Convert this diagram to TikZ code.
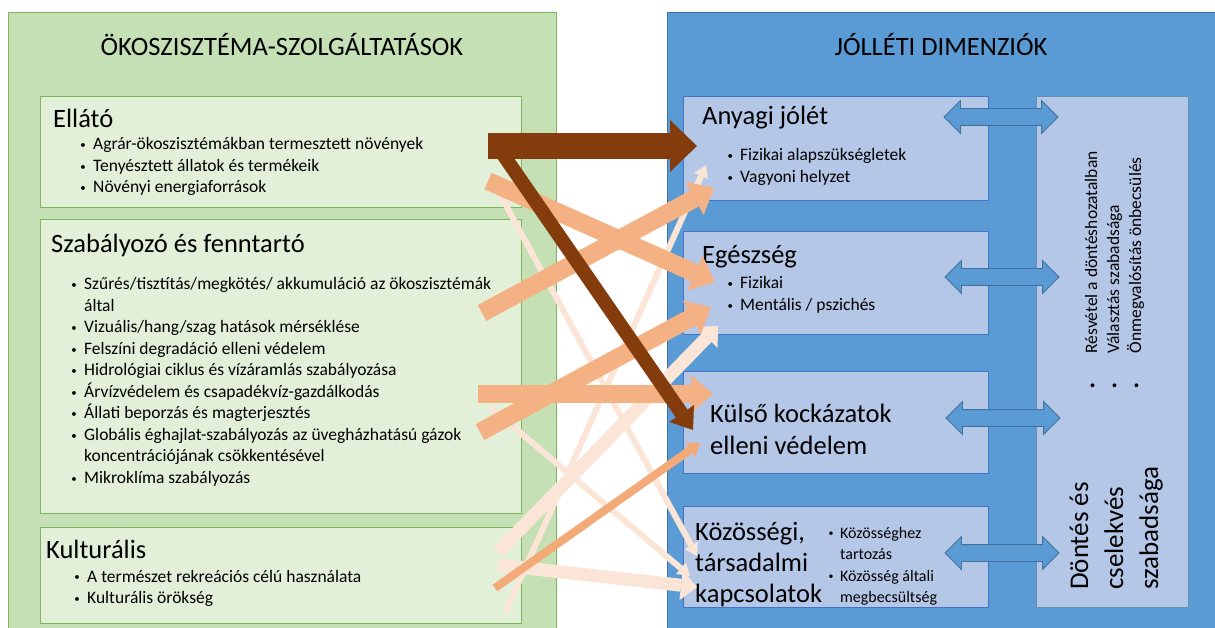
\documentclass[tikz,border=0pt]{standalone}
\usepackage{fontspec}
\setmainfont{Carlito}
\usetikzlibrary{arrows.meta, shapes.arrows}

\definecolor{greenpanel}{HTML}{C5E0B4}
\definecolor{greenbox}{HTML}{E2F0D9}
\definecolor{greenedge}{HTML}{7DB65A}
\definecolor{bluepanel}{HTML}{5B9BD5}
\definecolor{blueedge}{HTML}{41719C}
\definecolor{bluebox}{HTML}{B4C7E7}
\definecolor{boxedge}{HTML}{4472C4}
\definecolor{darkbrown}{HTML}{843C0C}
\definecolor{salmon}{HTML}{F4B183}
\definecolor{peach}{HTML}{FBE5D6}
\definecolor{deepsalmon}{HTML}{F4AA78}

\newcommand{\blt}{\makebox[10pt]{\raisebox{1.3pt}{\scalebox{0.62}{\textbullet}}}}
\newcommand{\vblt}{\raisebox{1.3pt}{\scalebox{0.62}{\textbullet}}}

\tikzset{
  panel/.style={anchor=north west, inner sep=0pt, line width=1pt},
  servbox/.style={panel, draw=greenedge, fill=greenbox},
  dimbox/.style={panel, draw=boxedge, fill=bluebox},
  paneltitle/.style={anchor=base, inner sep=0pt, font=\fontsize{26.5}{32}\selectfont},
  boxtitle/.style={anchor=base west, inner sep=0pt, font=\fontsize{26.5}{32}\selectfont},
  itemlist/.style={anchor=base west, inner sep=0pt, font=\fontsize{17.5}{21.5}\selectfont},
  dblarrow/.style={double arrow, draw=blueedge, fill=bluepanel, line width=0.8pt,
    inner xsep=0pt, inner ysep=8pt, minimum width=1pt, minimum height=114pt,
    double arrow head extend=8pt, double arrow tip angle=90},
  bigbrown/.style={draw=darkbrown, line width=26pt, -{Triangle[length=27pt, width=52pt, line width=0pt]}},
  thinbrown/.style={draw=darkbrown, line width=14pt, -{Triangle[length=20pt, width=30pt, line width=0pt]}},
  salmonarrow/.style={draw=salmon, line width=18pt, -{Triangle[length=22pt, width=38pt, line width=0pt]}},
  salmonline/.style={draw=deepsalmon, line width=8pt, -{Triangle[length=12pt, width=18pt, line width=0pt]}},
  peacharrow/.style={draw=peach, line width=13pt, -{Triangle[length=16pt, width=30pt, line width=0pt]}},
  peachline/.style={draw=peach, line width=6pt, -{Triangle[length=12pt, width=15pt, line width=0pt]}}
}

\begin{document}
\begin{tikzpicture}[x=1pt, y=-1pt]
\useasboundingbox (0,0) rectangle (1215,628);

% panels
\node[panel, draw=greenedge, fill=greenpanel, minimum width=548pt, minimum height=632pt] (ekopanel) at (8,12) {};
\node[panel, draw=blueedge, fill=bluepanel, minimum width=560pt, minimum height=632pt] (jolletpanel) at (667,12) {};
\node[paneltitle] (ekotitle) at (282,56) {ÖKOSZISZTÉMA-SZOLGÁLTATÁSOK};
\node[paneltitle] (jolettitle) at (941,56) {JÓLLÉTI DIMENZIÓK};

% ecosystem services
\node[servbox, minimum width=481pt, minimum height=111pt] (ellato) at (40,96) {};
\node[servbox, minimum width=481pt, minimum height=294pt] (szabalyozo) at (40,219) {};
\node[servbox, minimum width=481pt, minimum height=96pt] (kulturalis) at (40,527) {};

\node[boxtitle] (ellatotitle) at (53,128) {Ellátó};
\node[itemlist] (ellatolist) at (78,150) {\begin{tabular}[t]{@{}l@{\hspace{5pt}}l@{}}
\blt & Agrár-ökoszisztémákban termesztett növények\\
\blt & Tenyésztett állatok és termékeik\\
\blt & Növényi energiaforrások
\end{tabular}};

\node[boxtitle] (szabtitle) at (51,253) {Szabályozó és fenntartó};
\node[itemlist] (szablist) at (69,290) {\begin{tabular}[t]{@{}l@{\hspace{5pt}}l@{}}
\blt & Szűrés/tisztítás/megkötés/ akkumuláció az ökoszisztémák\\
 & által\\
\blt & Vizuális/hang/szag hatások mérséklése\\
\blt & Felszíni degradáció elleni védelem\\
\blt & Hidrológiai ciklus és vízáramlás szabályozása\\
\blt & Árvízvédelem és csapadékvíz-gazdálkodás\\
\blt & Állati beporzás és magterjesztés\\
\blt & Globális éghajlat-szabályozás az üvegházhatású gázok\\
 & koncentrációjának csökkentésével\\
\blt & Mikroklíma szabályozás
\end{tabular}};

\node[boxtitle] (kulttitle) at (46,558) {Kulturális};
\node[itemlist] (kultlist) at (72,582) {\begin{tabular}[t]{@{}l@{\hspace{5pt}}l@{}}
\blt & A természet rekreációs célú használata\\
\blt & Kulturális örökség
\end{tabular}};

% well-being dimensions
\node[dimbox, minimum width=305pt, minimum height=104pt] (anyagi) at (683,96) {};
\node[dimbox, minimum width=305pt, minimum height=103pt] (egeszseg) at (683,231) {};
\node[dimbox, minimum width=305pt, minimum height=102pt] (kulso) at (683,371) {};
\node[dimbox, minimum width=305pt, minimum height=101pt] (kozosseg) at (683,506) {};
\node[dimbox, draw=blueedge!80, minimum width=152pt, minimum height=511pt] (dontes) at (1036,96) {};

\node[boxtitle] (anyagititle) at (702,125) {Anyagi jólét};
\node[itemlist] (anyagilist) at (725,161) {\begin{tabular}[t]{@{}l@{\hspace{5pt}}l@{}}
\blt & Fizikai alapszükségletek\\
\blt & Vagyoni helyzet
\end{tabular}};

\node[boxtitle] (egeszsegtitle) at (702,264) {Egészség};
\node[itemlist] (egeszseglist) at (725,289) {\begin{tabular}[t]{@{}l@{\hspace{5pt}}l@{}}
\blt & Fizikai\\
\blt & Mentális / pszichés
\end{tabular}};

\node[boxtitle] (kulsotitle) at (710,422) {\begin{tabular}[t]{@{}l@{}}Külső kockázatok\\elleni védelem\end{tabular}};

\node[boxtitle, font=\fontsize{26.5}{31}\selectfont] (kozossegtitle) at (695,540) {\begin{tabular}[t]{@{}l@{}}Közösségi,\\társadalmi\\kapcsolatok\end{tabular}};
\node[itemlist, font=\fontsize{16}{21.5}\selectfont] (kozossegllist) at (826,538) {\begin{tabular}[t]{@{}l@{\hspace{4pt}}l@{}}
\blt & Közösséghez\\
 & tartozás\\
\blt & Közösség általi\\
 & megbecsültség
\end{tabular}};

\node[rotate=90, anchor=base west, inner sep=0pt, font=\fontsize{27}{35}\selectfont] (dontestitle) at (1088,590) {\begin{tabular}[t]{@{}l@{}}Döntés és\\cselekvés\\szabadsága\end{tabular}};
\node[rotate=90, anchor=base west, inner sep=0pt, font=\fontsize{17.5}{22}\selectfont] (donteslist) at (1097,389) {\begin{tabular}[t]{@{}l@{\hspace{30pt}}l@{}}
\vblt & Résvétel a döntéshozatalban\\
\vblt & Választás szabadsága\\
\vblt & Önmegvalósítás önbecsülés
\end{tabular}};

\node[dblarrow] (dbl1) at (1001,117) {};
\node[dblarrow] (dbl2) at (1002,277) {};
\node[dblarrow] (dbl3) at (1003,418) {};
\node[dblarrow] (dbl4) at (1002,553) {};

% arrow ends
\coordinate (s1) at (488,146);  \coordinate (t1) at (697,146);
\coordinate (s2) at (500,150);  \coordinate (t2) at (693,430);
\coordinate (s3) at (488,181);  \coordinate (t3) at (715,282);
\coordinate (s4) at (482,313);  \coordinate (t4) at (714,188);
\coordinate (s5) at (490,176);  \coordinate (t5) at (697,556);
\coordinate (s6) at (505,613);  \coordinate (t6) at (706,165);
\coordinate (s7) at (478,394);  \coordinate (t7) at (713,394);
\coordinate (s8) at (480,432);  \coordinate (t8) at (711,307);
\coordinate (s9) at (498,552);  \coordinate (t9) at (718,326);
\coordinate (s10) at (498,565); \coordinate (t10) at (697,587);
\coordinate (s11) at (495,588); \coordinate (t11) at (700,443);
\coordinate (s12) at (490,407); \coordinate (t12) at (690,576);

\draw[peachline] (s5) -- (t5);
\draw[peachline] (s6) -- (t6);
\draw[peachline] (s12) -- (t12);
\draw[peacharrow] (s9) -- (t9);
\draw[peacharrow] (s10) -- (t10);
\draw[salmonarrow] (s3) -- (t3);
\draw[salmonarrow] (s4) -- (t4);
\draw[salmonarrow] (s7) -- (t7);
\draw[salmonarrow] (s8) -- (t8);
\draw[salmonline] (s11) -- (t11);
\draw[thinbrown] (s2) -- (t2);
\draw[bigbrown] (s1) -- (t1);
\end{tikzpicture}
\end{document}
